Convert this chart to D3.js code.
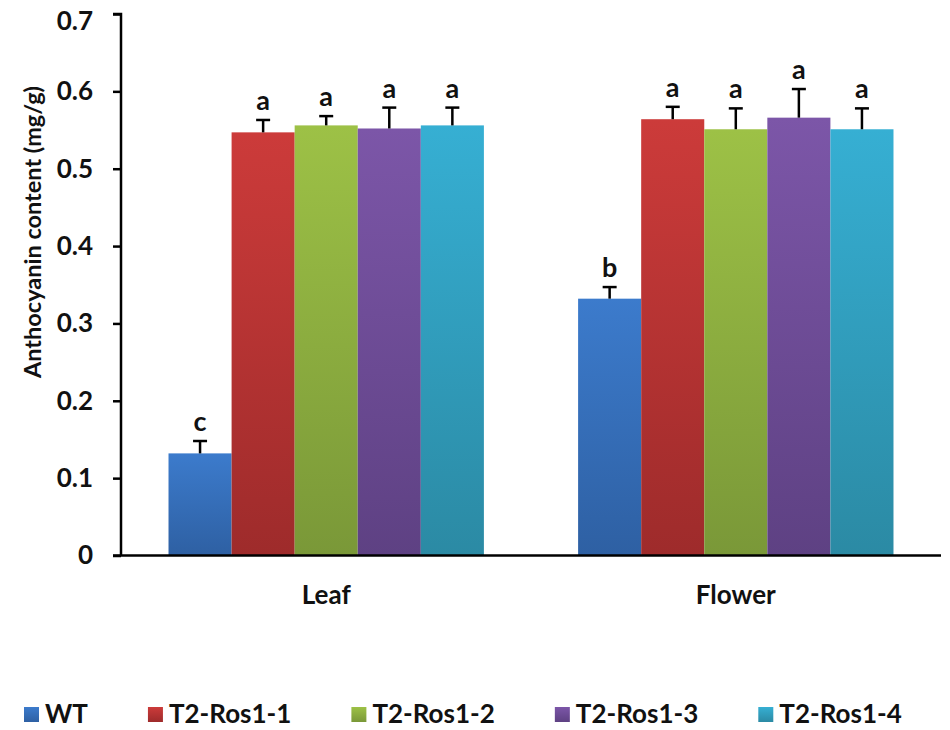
<!DOCTYPE html>
<html>
<head>
<meta charset="utf-8">
<script src="https://cdn.jsdelivr.net/npm/d3@7"></script>
<style>
  body { margin: 0; background: #fff; }
  svg { display: block; font-family: Lato, "Open Sans", sans-serif; font-weight: bold; }
</style>
</head>
<body>
<svg width="950" height="730"></svg>
<script>
const groups = ["Leaf", "Flower"];
const series = ["WT", "T2-Ros1-1", "T2-Ros1-2", "T2-Ros1-3", "T2-Ros1-4"];
const leafValues = [0.132, 0.547, 0.556, 0.552, 0.556];
const leafErrors = [0.016, 0.016, 0.012, 0.027, 0.023];
const flowerValues = [0.332, 0.564, 0.551, 0.566, 0.551];
const flowerErrors = [0.015, 0.016, 0.027, 0.037, 0.027];
const leafLetters = ["c", "a", "a", "a", "a"];
const flowerLetters = ["b", "a", "a", "a", "a"];
const yTicks = [0, 0.1, 0.2, 0.3, 0.4, 0.5, 0.6, 0.7];

const colors = [
  ["#3c7bcc", "#2e60a3"],
  ["#cc3b3a", "#9e2b2b"],
  ["#9dc146", "#7a9838"],
  ["#7c56a8", "#5e4183"],
  ["#36afd3", "#2b8aa4"]
];

const svg = d3.select("svg");

// gradients like the excel bars, lighter at top
const defs = svg.append("defs");
colors.forEach((c, i) => {
  const g = defs.append("linearGradient")
    .attr("id", "grad" + i)
    .attr("x1", 0).attr("y1", 0).attr("x2", 0).attr("y2", 1);
  g.append("stop").attr("offset", "0%").attr("stop-color", c[0]);
  g.append("stop").attr("offset", "100%").attr("stop-color", c[1]);
});

const rows = groups.map((g, gi) => ({
  group: g,
  values: (gi === 0 ? leafValues : flowerValues).map((v, i) => ({
    name: series[i],
    idx: i,
    value: v,
    err: (gi === 0 ? leafErrors : flowerErrors)[i],
    letter: (gi === 0 ? leafLetters : flowerLetters)[i]
  }))
}));

const y = d3.scaleLinear().domain([0, 0.7]).range([555.5, 14]);

const x0 = d3.scaleBand()
  .domain(groups)
  .range([121, 941])
  .paddingInner(0.23)
  .paddingOuter(0.116);

const x1 = d3.scaleBand()
  .domain(series)
  .range([0, x0.bandwidth()]);

const gGroups = svg.selectAll("g.group")
  .data(rows)
  .enter()
  .append("g")
  .attr("class", "group")
  .attr("transform", d => `translate(${x0(d.group)},0)`);

gGroups.selectAll("rect")
  .data(d => d.values)
  .enter()
  .append("rect")
  .attr("x", d => x1(d.name))
  .attr("y", d => y(d.value))
  .attr("width", x1.bandwidth())
  .attr("height", d => y(0) - y(d.value))
  .attr("fill", d => `url(#grad${d.idx})`);

// error bars (upper only)
const eb = gGroups.selectAll("g.err")
  .data(d => d.values)
  .enter()
  .append("g")
  .attr("class", "err")
  .attr("stroke", "#000")
  .attr("stroke-width", 2.5);

eb.append("line")
  .attr("x1", d => x1(d.name) + x1.bandwidth() / 2)
  .attr("x2", d => x1(d.name) + x1.bandwidth() / 2)
  .attr("y1", d => y(d.value))
  .attr("y2", d => y(d.value + d.err));

eb.append("line")
  .attr("x1", d => x1(d.name) + x1.bandwidth() / 2 - 7)
  .attr("x2", d => x1(d.name) + x1.bandwidth() / 2 + 7)
  .attr("y1", d => y(d.value + d.err))
  .attr("y2", d => y(d.value + d.err));

gGroups.selectAll("text.letter")
  .data(d => d.values)
  .enter()
  .append("text")
  .attr("class", "letter")
  .attr("x", d => x1(d.name) + x1.bandwidth() / 2)
  .attr("y", d => y(d.value + d.err) - 10)
  .attr("text-anchor", "middle")
  .attr("font-size", 27)
  .attr("fill", "#111")
  .text(d => d.letter);

// y axis
const yAxis = d3.axisLeft(y)
  .tickValues(yTicks)
  .tickSize(8)
  .tickPadding(20)
  .tickFormat(d => d === 0 ? "0" : d3.format(".1f")(d));

const axis = svg.append("g")
  .attr("transform", "translate(121,0)")
  .call(yAxis);
axis.select(".domain").attr("stroke-width", 2.5).attr("d", `M-8,${y(0.7)}H0V${y(0)}`);
axis.selectAll(".tick line").attr("stroke-width", 2.5);
axis.selectAll("text")
  .attr("font-size", 26)
  .attr("font-family", "Lato, sans-serif")
  .attr("font-weight", "bold")
  .attr("fill", "#111");
// top label sits a little lower, as in the original
axis.selectAll(".tick text")
  .filter(d => d === 0.7)
  .attr("dy", "0.6em");

// x axis baseline
svg.append("line")
  .attr("x1", 113).attr("x2", 941)
  .attr("y1", y(0)).attr("y2", y(0))
  .attr("stroke", "#000").attr("stroke-width", 2.5);

svg.selectAll("text.cat")
  .data(groups)
  .enter()
  .append("text")
  .attr("class", "cat")
  .attr("x", d => x0(d) + x0.bandwidth() / 2)
  .attr("y", 604)
  .attr("text-anchor", "middle")
  .attr("font-size", 26)
  .attr("fill", "#111")
  .text(d => d);

svg.append("text")
  .attr("transform", "translate(41,232) rotate(-90)")
  .attr("text-anchor", "middle")
  .attr("font-size", 23.5)
  .attr("fill", "#111")
  .text("Anthocyanin content (mg/g)");

// legend
const legend = svg.append("g").attr("transform", "translate(24,0)");
let lx = 0;
series.forEach((s, i) => {
  const item = legend.append("g").attr("transform", `translate(${lx},0)`);
  item.append("rect")
    .attr("x", 0).attr("y", 707)
    .attr("width", 15).attr("height", 15)
    .attr("fill", `url(#grad${i})`);
  const t = item.append("text")
    .attr("x", 21).attr("y", 723)
    .attr("font-size", 26)
    .attr("fill", "#111")
    .text(s);
  lx += 21 + t.node().getComputedTextLength() + 60;
});
</script>
</body>
</html>
